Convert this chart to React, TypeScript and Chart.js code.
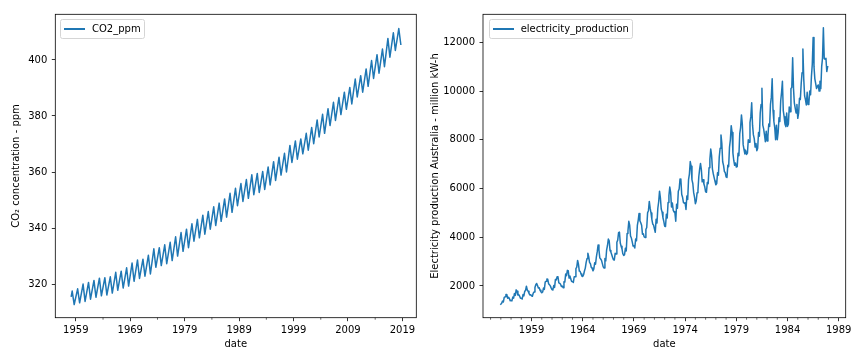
import React, { useEffect, useRef } from "react";
import { Chart, registerables } from "chart.js";

Chart.register(...registerables);

// ---------- CO2 (Mauna Loa) : yearly seasonal peaks (May) and troughs (Sep/Oct) ----------
const co2Years = [
  1958, 1959, 1960, 1961, 1962, 1963, 1964, 1965, 1966, 1967, 1968, 1969, 1970, 1971, 1972,
  1973, 1974, 1975, 1976, 1977, 1978, 1979, 1980, 1981, 1982, 1983, 1984, 1985, 1986, 1987,
  1988, 1989, 1990, 1991, 1992, 1993, 1994, 1995, 1996, 1997, 1998, 1999, 2000, 2001, 2002,
  2003, 2004, 2005, 2006, 2007, 2008, 2009, 2010, 2011, 2012, 2013, 2014, 2015, 2016, 2017, 2018,
];
const co2Peaks = [
  317.5, 318.3, 320.0, 320.6, 321.3, 322.1, 322.3, 322.6, 324.2, 324.6, 325.8, 327.5, 328.6, 328.9, 330.3,
  332.6, 333.0, 334.0, 334.9, 336.9, 338.4, 339.6, 341.5, 343.1, 344.6, 345.9, 347.6, 348.9, 350.4, 352.4,
  354.2, 355.9, 357.3, 359.0, 359.5, 360.2, 361.8, 363.7, 365.3, 366.7, 369.5, 371.1, 371.8, 373.8, 375.9,
  378.6, 380.6, 382.6, 384.9, 386.6, 388.5, 390.2, 393.2, 394.4, 396.8, 399.8, 401.9, 403.9, 407.7, 409.7, 411.2,
];
const co2Troughs = [
  312.7, 313.3, 313.8, 314.6, 315.3, 315.8, 316.1, 316.8, 317.8, 318.6, 319.3, 321.0, 322.0, 322.8, 323.6,
  326.0, 326.6, 327.3, 328.4, 330.0, 331.7, 333.0, 335.3, 336.5, 337.8, 339.6, 340.9, 342.4, 343.9, 345.6,
  348.0, 349.5, 350.6, 351.9, 352.7, 353.8, 355.4, 357.0, 358.9, 360.0, 363.4, 364.6, 366.5, 367.8, 370.1,
  372.5, 373.8, 376.6, 378.4, 380.5, 382.4, 384.3, 386.8, 388.5, 390.6, 393.4, 395.3, 397.6, 401.0, 403.4, 405.6,
];
const co2FirstDate = 1958.167;
const co2FirstValue = 315.7;

const co2TickYears = [1959, 1969, 1979, 1989, 1999, 2009, 2019];
const co2MinorYears = [1964, 1974, 1984, 1994, 2004, 2014];
const co2YTicks = [320, 340, 360, 380, 400];

// ---------- Electricity production Australia, monthly from Jan 1956 ----------
const elecStartYear = 1956;
const elecValues = [
  1254, 1290, 1379, 1346, 1535, 1555, 1655, 1651, 1500, 1538, 1486, 1394,
  1409, 1387, 1543, 1502, 1693, 1616, 1841, 1787, 1631, 1649, 1586, 1500,
  1497, 1463, 1648, 1595, 1777, 1824, 1994, 1835, 1787, 1699, 1633, 1645,
  1597, 1577, 1709, 1756, 1936, 2052, 2105, 2016, 1914, 1925, 1824, 1765,
  1721, 1752, 1914, 1857, 2159, 2195, 2287, 2276, 2096, 2055, 2004, 1924,
  1851, 1839, 2019, 1937, 2270, 2251, 2382, 2364, 2129, 2110, 2072, 1980,
  1995, 1932, 2171, 2162, 2489, 2424, 2641, 2630, 2324, 2412, 2284, 2186,
  2184, 2144, 2379, 2383, 2717, 2774, 3051, 2891, 2613, 2600, 2493, 2410,
  2390, 2463, 2616, 2734, 2970, 3125, 3342, 3207, 2964, 2919, 2764, 2732,
  2622, 2698, 2950, 2895, 3200, 3408, 3679, 3473, 3154, 3107, 3052, 2918,
  2786, 2739, 3125, 3033, 3486, 3661, 3927, 3851, 3456, 3390, 3280, 3166,
  3080, 3069, 3340, 3310, 3798, 3883, 4191, 4213, 3766, 3628, 3520, 3322,
  3250, 3287, 3552, 3440, 4153, 4265, 4655, 4492, 4051, 3967, 3807, 3639,
  3647, 3560, 3929, 3858, 4485, 4697, 4977, 4675, 4596, 4491, 4127, 4144,
  4014, 3994, 4320, 4400, 5002, 5091, 5471, 5193, 4997, 4737, 4546, 4498,
  4350, 4206, 4743, 4582, 5191, 5457, 5891, 5618, 5158, 5030, 4800, 4654,
  4453, 4440, 4945, 4788, 5425, 5706, 6061, 5846, 5242, 5408, 5114, 5042,
  5008, 4657, 5359, 5193, 5891, 5980, 6390, 6366, 5756, 5640, 5429, 5398,
  5413, 5141, 5695, 5554, 6369, 6592, 7107, 6917, 6353, 6205, 5830, 5646,
  5379, 5489, 5824, 5907, 6482, 6795, 7028, 6776, 6274, 6362, 6183, 6069,
  5863, 5850, 6250, 6200, 6850, 7200, 7620, 7350, 6800, 6600, 6450, 6300,
  6150, 6200, 6650, 6550, 7300, 7650, 8200, 7850, 7100, 6950, 6700, 6650,
  6480, 6450, 6950, 6900, 7700, 8000, 8580, 8300, 7450, 7150, 6950, 7050,
  6880, 6900, 7450, 7350, 8250, 8500, 9020, 8650, 7800, 7600, 7420, 7550,
  7400, 7450, 8000, 7900, 8700, 8950, 9520, 8600, 8200, 8050, 7700, 7850,
  7550, 7650, 8300, 8150, 9100, 9450, 10110, 8600, 8450, 8200, 7920, 8350,
  7950, 8150, 8650, 8550, 9450, 9750, 10500, 9200, 8750, 8500, 8000, 8600,
  8000, 8300, 8900, 8750, 9600, 9950, 10400, 9200, 8950, 8650, 8540, 9100,
  8550, 8650, 9350, 9150, 10100, 10150, 11370, 10100, 9500, 9300, 9100, 9450,
  8880, 9100, 9700, 9650, 10300, 10750, 11720, 10500, 9800, 9650, 9430, 9950,
  9450, 9500, 10000, 9850, 10600, 11100, 12200, 11000, 10500, 10300, 10100, 10200,
  10250, 10000, 10400, 10100, 11000, 11350, 12600, 11340, 11300, 11350, 10800, 11000,
];
const elecTickYears = [1959, 1964, 1969, 1974, 1979, 1984, 1989];
const elecMinorYears = [
  1955, 1956, 1957, 1958, 1960, 1961, 1962, 1963, 1965, 1966, 1967, 1968, 1970, 1971, 1972,
  1973, 1975, 1976, 1977, 1978, 1980, 1981, 1982, 1983, 1985, 1986, 1987, 1988,
];
const elecYTicks = [2000, 4000, 6000, 8000, 10000, 12000];

const LINE_COLOR = "#1f77b4";
const FONT = "'DejaVu Sans', 'Liberation Sans', sans-serif";

function buildCo2Points() {
  const pts: { x: number; y: number }[] = [{ x: co2FirstDate, y: co2FirstValue }];
  co2Years.forEach((yr, i) => {
    pts.push({ x: yr + 4 / 12, y: co2Peaks[i] });
    pts.push({ x: yr + 0.7, y: co2Troughs[i] });
  });
  return pts;
}

function buildElecPoints() {
  return elecValues.map((v, i) => ({ x: elecStartYear + i / 12, y: v }));
}

const framePlugin = {
  id: "frame",
  afterDraw(chart: any, _args: any, opts: any) {
    const { ctx, chartArea } = chart;
    const xs = chart.scales.x;
    ctx.save();
    ctx.strokeStyle = "#000";
    ctx.lineWidth = 0.6;
    (opts.minor || []).forEach((v: number) => {
      const px = xs.getPixelForValue(v);
      if (px < chartArea.left || px > chartArea.right) return;
      ctx.beginPath();
      ctx.moveTo(px, chartArea.bottom);
      ctx.lineTo(px, chartArea.bottom + 2);
      ctx.stroke();
    });
    ctx.lineWidth = 0.8;
    ctx.strokeRect(
      chartArea.left,
      chartArea.top,
      chartArea.right - chartArea.left,
      chartArea.bottom - chartArea.top
    );
    ctx.restore();
  },
};

type Cfg = {
  points: { x: number; y: number }[];
  label: string;
  xMin: number;
  xMax: number;
  yMin: number;
  yMax: number;
  xTicks: number[];
  yTicks: number[];
  minor: number[];
  yTitle: string;
  yWidth: number;
  yTitlePad: number;
  padRight: number;
};

function makeConfig(c: Cfg): any {
  return {
    type: "line",
    data: {
      datasets: [
        {
          label: c.label,
          data: c.points,
          borderColor: LINE_COLOR,
          borderWidth: 1.5,
          pointRadius: 0,
          tension: 0,
          fill: false,
          borderJoinStyle: "round",
          borderCapStyle: "square",
        },
      ],
    },
    options: {
      animation: false,
      responsive: false,
      devicePixelRatio: 1,
      layout: { padding: { top: 14.3, right: c.padRight, left: 0, bottom: 0 } },
      plugins: {
        legend: { display: false },
        tooltip: { enabled: false },
        frame: { minor: c.minor },
      },
      scales: {
        x: {
          type: "linear",
          min: c.xMin,
          max: c.xMax,
          afterBuildTicks: (axis: any) => {
            axis.ticks = c.xTicks.map((v) => ({ value: v }));
          },
          afterFit: (axis: any) => {
            axis.height = 42.3;
          },
          ticks: {
            autoSkip: false,
            maxRotation: 0,
            padding: 3,
            color: "#000",
            font: { family: FONT, size: 10 },
            callback: (v: any) => String(v),
          },
          grid: {
            display: true,
            drawOnChartArea: false,
            drawTicks: true,
            tickLength: 3.5,
            color: "#000",
            lineWidth: 0.8,
          },
          border: { display: false },
          title: {
            display: true,
            text: "date",
            color: "#000",
            font: { family: FONT, size: 10 },
            padding: { top: 0, bottom: 9.9 },
          },
        },
        y: {
          type: "linear",
          min: c.yMin,
          max: c.yMax,
          afterBuildTicks: (axis: any) => {
            axis.ticks = c.yTicks.map((v) => ({ value: v }));
          },
          afterFit: (axis: any) => {
            axis.width = c.yWidth;
          },
          ticks: {
            padding: 4.5,
            color: "#000",
            font: { family: FONT, size: 10 },
            callback: (v: any) => String(v),
          },
          grid: {
            display: true,
            drawOnChartArea: false,
            drawTicks: true,
            tickLength: 3.5,
            color: "#000",
            lineWidth: 0.8,
          },
          border: { display: false },
          title: {
            display: true,
            text: c.yTitle,
            color: "#000",
            font: { family: FONT, size: 10 },
            padding: { top: c.yTitlePad, bottom: 0 },
          },
        },
      },
    },
    plugins: [framePlugin],
  };
}

function ChartCanvas(props: { cfg: Cfg; left: number; width: number }) {
  const ref = useRef<HTMLCanvasElement | null>(null);
  useEffect(() => {
    if (!ref.current) return;
    const chart = new Chart(ref.current, makeConfig(props.cfg));
    return () => chart.destroy();
  }, []);
  return (
    <canvas
      ref={ref}
      width={props.width}
      height={360}
      style={{ position: "absolute", left: props.left, top: 0, width: props.width, height: 360 }}
    />
  );
}

function Legend(props: { left: number; width: number; text: string }) {
  return (
    <div
      style={{
        position: "absolute",
        left: props.left,
        top: 19,
        width: props.width,
        height: 19.5,
        boxSizing: "border-box",
        border: "1px solid #d5d5d5",
        borderRadius: 2.5,
        background: "rgba(255,255,255,0.8)",
        fontFamily: FONT,
        fontSize: 10,
        color: "#000",
      }}
    >
      <div
        style={{
          position: "absolute",
          left: 3,
          top: 8,
          width: 21,
          height: 1.5,
          background: LINE_COLOR,
        }}
      />
      <div
        style={{
          position: "absolute",
          left: 31,
          top: 0,
          height: 17.5,
          lineHeight: "17.5px",
          whiteSpace: "nowrap",
        }}
      >
        {props.text}
      </div>
    </div>
  );
}

export default function App() {
  const co2Cfg: Cfg = {
    points: buildCo2Points(),
    label: "CO2_ppm",
    xMin: 1955.23,
    xMax: 2021.55,
    yMin: 308.0,
    yMax: 416.3,
    xTicks: co2TickYears,
    yTicks: co2YTicks,
    minor: co2MinorYears,
    yTitle: "CO\u2082 concentration - ppm",
    yWidth: 55.3,
    yTitlePad: 10.7,
    padRight: 3.7,
  };
  const elecCfg: Cfg = {
    points: buildElecPoints(),
    label: "electricity_production",
    xMin: 1954.26,
    xMax: 1989.68,
    yMin: 699,
    yMax: 13149,
    xTicks: elecTickYears,
    yTicks: elecYTicks,
    minor: elecMinorYears,
    yTitle: "Electricity production Australia - million kW-h",
    yWidth: 63,
    yTitlePad: 9,
    padRight: 18.3,
  };
  return (
    <div style={{ position: "absolute", left: 0, top: 0, width: 864, height: 360, background: "#fff" }}>
      <ChartCanvas cfg={co2Cfg} left={0} width={420} />
      <ChartCanvas cfg={elecCfg} left={420} width={444} />
      <Legend left={60} width={84.5} text="CO2_ppm" />
      <Legend left={488.7} width={144.6} text="electricity_production" />
    </div>
  );
}
